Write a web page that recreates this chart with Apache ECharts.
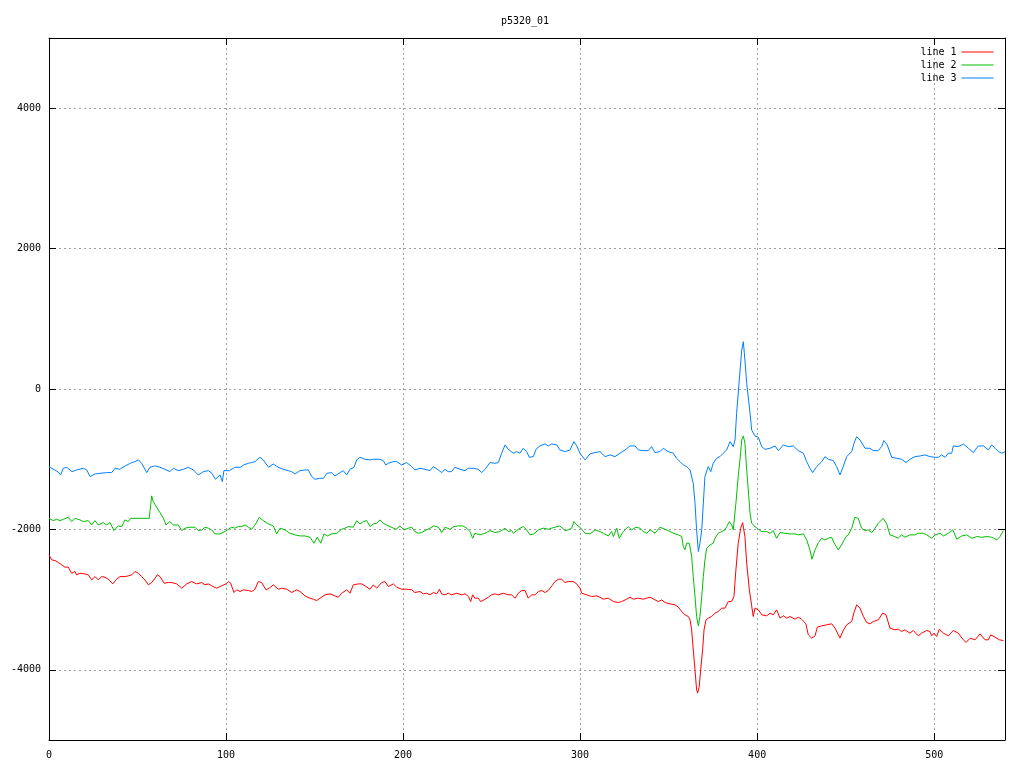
<!DOCTYPE html>
<html>
<head>
<meta charset="utf-8">
<script src="https://cdn.jsdelivr.net/npm/echarts@6/dist/echarts.min.js"></script>
<style>html,body{margin:0;padding:0;background:#fff;}#c{width:1024px;height:768px;}</style>
</head>
<body>
<div id="c"></div>
<script>
const titleText = 'p5320_01';
const seriesNames = ['line 1', 'line 2', 'line 3'];
const xTicks = [0, 100, 200, 300, 400, 500];
const yTicks = [-4000, -2000, 0, 2000, 4000];

// line 1 (red, lowest)
const line1X = [0,1.5,3.4,5.3,7.2,9,10.9,12.8,14.7,15.6,17.5,20.3,22.2,24.1,26,27.8,29.8,31.6,33.5,36,38.2,40.1,42.9,44.8,46.7,48.6,50.5,52.3,54.2,56.1,58,59.9,61.2,62.7,65,67.4,69.3,72.1,75,77.8,80.6,83.4,86.3,88.1,90,91.9,94.7,96.6,
100,101.3,102.6,104.5,106,107.9,109.8,112.6,114.5,116.4,118.2,120.1,122.6,124.4,126.7,129.5,131.4,134.3,137.1,139.9,141.8,144.6,147.4,149.3,151.2,153.1,155.9,158.7,161.5,163.4,165.3,168.2,170,171.9,174.7,176.6,179.1,181.3,183.2,185.1,187.9,189.8,191.7,
194.5,196.4,199.2,202,204.9,206.7,209.6,211.4,213.3,215.2,217.1,219,220.5,221.8,223.7,225.5,227.4,230.3,231.2,233.1,235,236.9,238.2,239.3,240.6,242.5,243.8,245.7,248.2,250,251.9,253.8,256.6,259.4,261.3,263.2,265.1,267,268.9,270.7,272.6,274.5,276.4,278.3,280.2,282,283,284.5,285.8,287.7,289.6,291.5,293.3,296.2,298.1,299.9,300.9,303.7,306.5,309.4,311.2,313.1,315.9,318.8,321.6,323.5,326.3,328.2,330,332.9,335.7,337.6,339.5,342.3,344.2,346.1,348,350.8,353.6,355.5,357.4,359.2,361.1,
362.1,363,363.9,364.9,365.8,366.4,367.3,368.1,369.2,370,371.1,372.4,374.3,376.2,378,380,381.8,383.7,385.6,386.9,388,389.3,390.7,391.8,393.1,394.1,395.6,396.9,397.8,398.8,400.7,402.6,405.4,407.3,409.1,411,412.9,414.8,416.7,418.5,
419.5,421.4,423.2,425.1,427.5,428.9,430.8,432.7,434,436.5,439.3,442.1,444,446.8,448.6,450.6,453.4,454.7,456.2,458.1,460,461.9,463.7,465.6,468.4,470.9,472.8,475,477.9,479.7,481.6,483.5,486.3,488.2,491,492.9,495.8,497.6,498.6,499.9,501.4,502.9,505.2,508,510.8,513.6,516.1,518,520.3,523.1,525.9,528.7,530.6,531.9,534.4,536.8,539.1];
const line1Y = [-2363,-2434,-2444,-2472,-2505,-2538,-2538,-2624,-2600,-2648,-2624,-2634,-2648,-2719,-2672,-2719,-2672,-2681,-2710,-2776,-2710,-2672,-2672,-2662,-2648,-2600,-2624,-2672,-2719,-2790,-2757,-2695,-2648,-2672,-2766,-2757,-2757,-2776,-2838,-2776,-2743,-2776,-2757,-2790,-2776,-2804,-2838,-2814,
-2776,-2743,-2766,-2899,-2861,-2885,-2861,-2871,-2885,-2852,-2743,-2757,-2861,-2838,-2790,-2852,-2838,-2852,-2899,-2861,-2885,-2947,-2980,-2994,-3014,-2980,-2932,-2918,-2947,-2966,-2909,-2861,-2909,-2790,-2776,-2776,-2814,-2852,-2790,-2838,-2757,-2743,-2814,
-2776,-2823,-2852,-2852,-2861,-2899,-2885,-2918,-2909,-2932,-2899,-2918,-2852,-2918,-2932,-2909,-2932,-2909,-2885,-2932,-2918,-2956,-3028,-2932,-2980,-2980,-3028,-3004,-2966,-2932,-2918,-2932,-2909,-2932,-2932,-2980,-2909,-2871,-2871,-2980,-2932,-2932,-2885,-2871,-2899,-2871,-2899,-2790,-2743,-2710,-2710,-2757,-2743,-2743,-2776,-2838,-2909,-2932,-2956,-2947,-2966,-2994,-2980,-3028,-3042,-3028,-2994,-2966,-2994,-2980,-2994,-2980,-2966,-3004,-3028,-3004,-3042,-3061,-3075,-3108,-3170,-3217,-3241,
-3288,-3431,-3715,-4000,-4285,-4332,-4238,-4000,-3715,-3431,-3288,-3264,-3241,-3193,-3170,-3122,-3122,-3028,-3028,-2956,-2577,-2197,-1983,-1903,-2102,-2482,-2861,-3089,-3241,-3122,-3146,-3217,-3231,-3193,-3217,-3146,-3264,-3231,-3264,-3241,
-3250,-3279,-3250,-3279,-3345,-3502,-3549,-3516,-3392,-3374,-3359,-3345,-3407,-3549,-3440,-3359,-3312,-3184,-3075,-3122,-3241,-3326,-3345,-3312,-3288,-3193,-3217,-3407,-3431,-3421,-3454,-3431,-3478,-3440,-3516,-3478,-3440,-3454,-3516,-3478,-3526,-3421,-3478,-3516,-3440,-3478,-3563,-3611,-3549,-3573,-3488,-3573,-3573,-3502,-3535,-3573,-3583];

// line 2 (green, middle)
const line2X = [0,2.4,4.3,6.2,8.1,10.9,12.8,14.7,17.5,19.4,22.2,24.1,26,27.8,30.7,32.6,34.5,36.7,39.1,41.1,42.9,44.8,46.1,51.4,56.7,57,58,58.9,60.8,62.7,64.6,66.1,68.3,70.2,73,75,76.8,79.6,82.5,84.3,86.3,88.1,90,91.9,93.8,96.6,
99.4,101.3,103.2,105.1,106.9,108.8,110.7,112.6,114.5,116.4,118.8,121,123.9,126.7,128.6,130.5,133.3,136.1,138.9,141.8,144.6,147.4,149.7,151.5,153.5,155.3,157.2,159.7,162.5,165.3,167.2,169.1,171.9,173.8,175.7,177.5,179.5,181.3,183.2,185.1,187,188.8,190.7,192.6,
193.6,196,198.3,200.5,203,204.9,206.7,208.6,210.5,212.4,215.2,217.5,219.9,221.8,223.7,226.5,228.8,231.2,233.7,235.9,237.8,239.3,240.6,243.5,246.3,249.1,251.9,254.7,257.6,259.4,261.3,262.3,265.1,267.9,269.8,271.7,273.9,276.4,279.2,282,283.9,285.8,288.6,
291.5,293.3,295.2,296.5,298.1,299.9,302.8,305.6,308.4,311.2,313.1,315.9,317.8,318.8,320.7,322.1,324.4,327.2,329.1,331.6,333.8,335.7,337.6,339.5,342.3,345.1,348,350.8,353.6,355.5,
357.4,358.3,359.2,360.2,361.7,363,363.9,364.9,365.8,366.8,367.7,368.7,369.6,370.5,371.5,373.4,375.2,376.2,378,380,381.8,382.8,384.3,385.6,386.5,387.1,388,389.3,390.3,391.3,392.2,393.1,394.1,395,396,396.9,398.8,400.7,402.6,405.4,407.3,409.1,411,412.9,415.7,418.5,
421.4,423.2,426.1,428,429.8,431,432.7,434.6,436.5,438.3,440.2,442.1,443.4,445.8,447.7,450.2,451.5,452.4,453.4,455.2,457.1,459,460.9,462.8,464.7,466.6,468.4,471.2,473.2,475,476.9,479.7,481.6,483.5,486.3,489.2,491,493.9,495.8,498.6,500.5,503.3,505.2,508,510.5,512.8,515.6,518.4,521.3,524.1,526.9,529.8,532.5,535.4,537.2,539.1];
const line2Y = [-1842,-1875,-1856,-1875,-1856,-1827,-1889,-1842,-1865,-1889,-1875,-1936,-1875,-1936,-1903,-1936,-1903,-2017,-1950,-1960,-1865,-1889,-1842,-1842,-1842,-1747,-1523,-1604,-1684,-1761,-1842,-1936,-1889,-1936,-1936,-2017,-1983,-1969,-1969,-2017,-2007,-1969,-1983,-2007,-2064,-2064,
-2031,-1998,-1969,-1983,-1960,-1960,-1936,-1969,-1998,-1936,-1827,-1875,-1922,-1950,-2064,-1983,-2007,-2055,-2078,-2093,-2093,-2112,-2197,-2112,-2197,-2064,-2093,-2064,-2055,-1998,-1983,-1960,-1969,-1875,-1922,-1889,-1875,-1960,-1922,-1913,-1865,-1913,-1936,-1960,
-1950,-1998,-1950,-2007,-1983,-1969,-2031,-2055,-2045,-2017,-1983,-1950,-1969,-2045,-1969,-1998,-1960,-1950,-1950,-1983,-2031,-2126,-2055,-2078,-2055,-2017,-2045,-2031,-1983,-2031,-2017,-2055,-1998,-1960,-2007,-2078,-2064,-2007,-1983,-1998,-1983,-1969,-1950,
-2017,-2007,-1983,-1889,-1936,-1969,-2055,-2064,-2007,-2031,-2055,-2093,-2031,-2102,-1983,-2126,-2031,-1960,-2007,-1969,-1983,-2031,-2055,-2007,-2055,-1969,-1998,-2031,-2064,-2078,
-2102,-2245,-2292,-2197,-2197,-2387,-2672,-2956,-3241,-3374,-3241,-2956,-2672,-2434,-2268,-2221,-2197,-2126,-2055,-2031,-2007,-1960,-1889,-1936,-2007,-2031,-1627,-1248,-1010,-726,-669,-773,-1153,-1438,-1770,-1913,-1960,-1998,-2031,-2031,-2055,-2017,-2126,-2045,-2055,-2064,
-2064,-2078,-2064,-2150,-2292,-2425,-2292,-2188,-2126,-2150,-2126,-2112,-2188,-2292,-2221,-2102,-2078,-2102,-1983,-1827,-1842,-1983,-2017,-2007,-2045,-1983,-1913,-1842,-1922,-2078,-2093,-2126,-2078,-2112,-2078,-2078,-2055,-2055,-2078,-2126,-2078,-2055,-2093,-2055,-2007,-2140,-2093,-2078,-2126,-2102,-2112,-2102,-2112,-2150,-2102,-2017];

// line 3 (blue, top)
const line3X = [0,3,5,6.6,8,10,13,15.6,19.4,21.3,23.2,26,28.8,32.6,35.4,37.3,40,43,46,48.6,50.5,52.3,55.2,57,60,62.7,65.5,68.3,70.2,73,76,78.7,81.5,84.3,87.2,90,92,94,96.6,
97.9,98.8,102,105,108,110,112.6,114.5,116.4,119.2,121,124,126.7,129.5,132.3,135.2,137,139,141.8,144.6,146.5,148.4,150.2,153,155,157,159.7,161.5,164.4,166.2,168.2,170,172.3,173.8,175.7,178.5,181.3,183.2,187,188.8,190.2,191.7,
194.5,196.4,199.2,202,204.9,206.7,209.6,212.4,215.2,217.1,219.9,221.8,223.7,225.5,227.4,229.3,232.2,235,236.9,239.7,242.5,244.4,246.3,249.1,251.9,253.8,255.7,257.6,259.4,262.3,264.2,266,267.9,269.8,271.3,273.6,275.1,277.3,280.2,282,283.9,286.8,288.6,
291.5,294.3,296.5,298.1,299.9,302.8,305.6,308.4,311.2,314.1,316.9,319.7,322.5,325.4,328.2,331,332.9,335.7,338.5,340.4,342.3,345.1,347,349.8,352.6,354.5,
356.4,358.3,360.2,362.1,363.9,364.9,365.8,366.8,367.7,368.7,369.6,370.5,372.4,373.8,375.2,377.1,379,380.9,382.8,384.7,386.5,387.5,388.4,389.9,391.3,392.2,393.1,394.1,396,396.9,398.8,400.7,402.6,404.4,407.3,410.1,412,414.8,417.6,
420.4,423.2,426.1,428,429.8,431.4,433.6,436.5,438.3,440.2,443,444.9,446.8,448.6,450.6,453.4,454.7,456.2,458.1,460.9,463.7,465.6,468.4,470.3,471.6,473.5,476,478.8,481.6,484.1,486.3,489.2,492,494.8,497.6,500.5,502.3,504.2,506.1,508,509.9,510.8,513.6,516.5,519.3,522.1,524.9,527.8,530.6,532.5,534.4,536.3,538.2,540];
const line3Y = [-1110,-1150,-1180,-1224,-1130,-1115,-1177,-1153,-1129,-1153,-1248,-1210,-1201,-1191,-1191,-1129,-1144,-1096,-1058,-1034,-1010,-1058,-1191,-1115,-1096,-1115,-1144,-1177,-1129,-1163,-1144,-1115,-1153,-1224,-1177,-1163,-1201,-1286,-1224,
-1319,-1163,-1163,-1115,-1115,-1082,-1058,-1048,-1034,-973,-1010,-1115,-1068,-1115,-1144,-1163,-1177,-1210,-1163,-1153,-1153,-1248,-1286,-1272,-1272,-1201,-1191,-1238,-1191,-1163,-1224,-1144,-1115,-1010,-973,-1001,-1010,-1001,-1001,-1020,-1082,-1058,
-1034,-1034,-1082,-1048,-1105,-1153,-1129,-1144,-1163,-1105,-1153,-1191,-1144,-1177,-1177,-1115,-1144,-1163,-1129,-1129,-1144,-1191,-1144,-1048,-1058,-1048,-915,-797,-859,-915,-892,-915,-844,-892,-973,-963,-859,-811,-783,-811,-783,-797,-868,
-892,-868,-750,-811,-915,-1010,-925,-906,-892,-963,-939,-963,-915,-868,-811,-811,-868,-878,-878,-821,-906,-892,-844,-892,-915,-987,
-1034,-1082,-1105,-1153,-1343,-1627,-2007,-2316,-2196,-2007,-1627,-1248,-1105,-1177,-1058,-987,-963,-915,-868,-750,-821,-726,-346,128,555,673,413,81,-346,-584,-669,-688,-821,-859,-844,-811,-878,-797,-821,
-811,-878,-915,-1034,-1129,-1191,-1105,-1034,-963,-1001,-1020,-1105,-1224,-1105,-963,-892,-773,-679,-726,-844,-844,-878,-878,-821,-735,-797,-973,-987,-1001,-1048,-1001,-963,-954,-939,-963,-973,-973,-939,-973,-915,-915,-811,-821,-783,-844,-906,-811,-811,-868,-797,-844,-892,-915,-892];

const colors = ['#ff0000', '#00c000', '#0080ff'];
const zip = (xs, ys) => xs.map((x, i) => [x, ys[i]]);
const seriesData = [zip(line1X, line1Y), zip(line2X, line2Y), zip(line3X, line3Y)];

const font = 'DejaVu Sans Mono';
const gridStyle = { show: true, lineStyle: { color: '#a0a0a0', width: 1, type: [2, 3] } };
const frameLine = { show: true, onZero: false, lineStyle: { color: '#000', width: 1 } };
const plainNum = v => String(v);

const chart = echarts.init(document.getElementById('c'), null, { renderer: 'canvas' });
chart.setOption({
  animation: false,
  backgroundColor: '#fff',
  title: {
    text: titleText, left: 520, textAlign: 'center', top: 11,
    textStyle: { fontFamily: font, fontSize: 10, fontWeight: 'normal', color: '#000' }
  },
  legend: {
    data: seriesNames, orient: 'vertical', right: 30, top: 47, padding: 0,
    align: 'right', itemWidth: 32, itemHeight: 10, itemGap: 3,
    itemStyle: { opacity: 0 },
    lineStyle: { width: 1 },
    textStyle: { fontFamily: font, fontSize: 10, color: '#000' }
  },
  grid: { left: 49, right: 19, top: 38, bottom: 28, containLabel: false },
  xAxis: [
    { type: 'value', min: 0, max: 540, position: 'bottom',
      axisLine: frameLine,
      axisTick: { show: true, inside: true, length: 7, customValues: xTicks, lineStyle: { color: '#000' } },
      axisLabel: { customValues: xTicks, formatter: plainNum, margin: 10, fontFamily: font, fontSize: 10, color: '#000' },
      splitLine: gridStyle },
    { type: 'value', min: 0, max: 540, position: 'top',
      axisLine: frameLine,
      axisTick: { show: true, inside: true, length: 7, customValues: xTicks, lineStyle: { color: '#000' } },
      axisLabel: { show: false }, splitLine: { show: false } }
  ],
  yAxis: [
    { type: 'value', min: -5000, max: 5000, position: 'left',
      axisLine: frameLine,
      axisTick: { show: true, inside: true, length: 7, customValues: yTicks, lineStyle: { color: '#000' } },
      axisLabel: { customValues: yTicks, formatter: plainNum, margin: 8, fontFamily: font, fontSize: 10, color: '#000' },
      splitLine: gridStyle },
    { type: 'value', min: -5000, max: 5000, position: 'right',
      axisLine: frameLine,
      axisTick: { show: true, inside: true, length: 7, customValues: yTicks, lineStyle: { color: '#000' } },
      axisLabel: { show: false }, splitLine: { show: false } }
  ],
  series: seriesNames.map((name, i) => ({
    name, type: 'line', data: seriesData[i], xAxisIndex: 0, yAxisIndex: 0,
    symbol: 'none', showSymbol: false, smooth: false,
    lineStyle: { color: colors[i], width: 1 }, itemStyle: { color: colors[i] },
    emphasis: { disabled: true }, z: 3 - i
  }))
});
</script>
</body>
</html>
